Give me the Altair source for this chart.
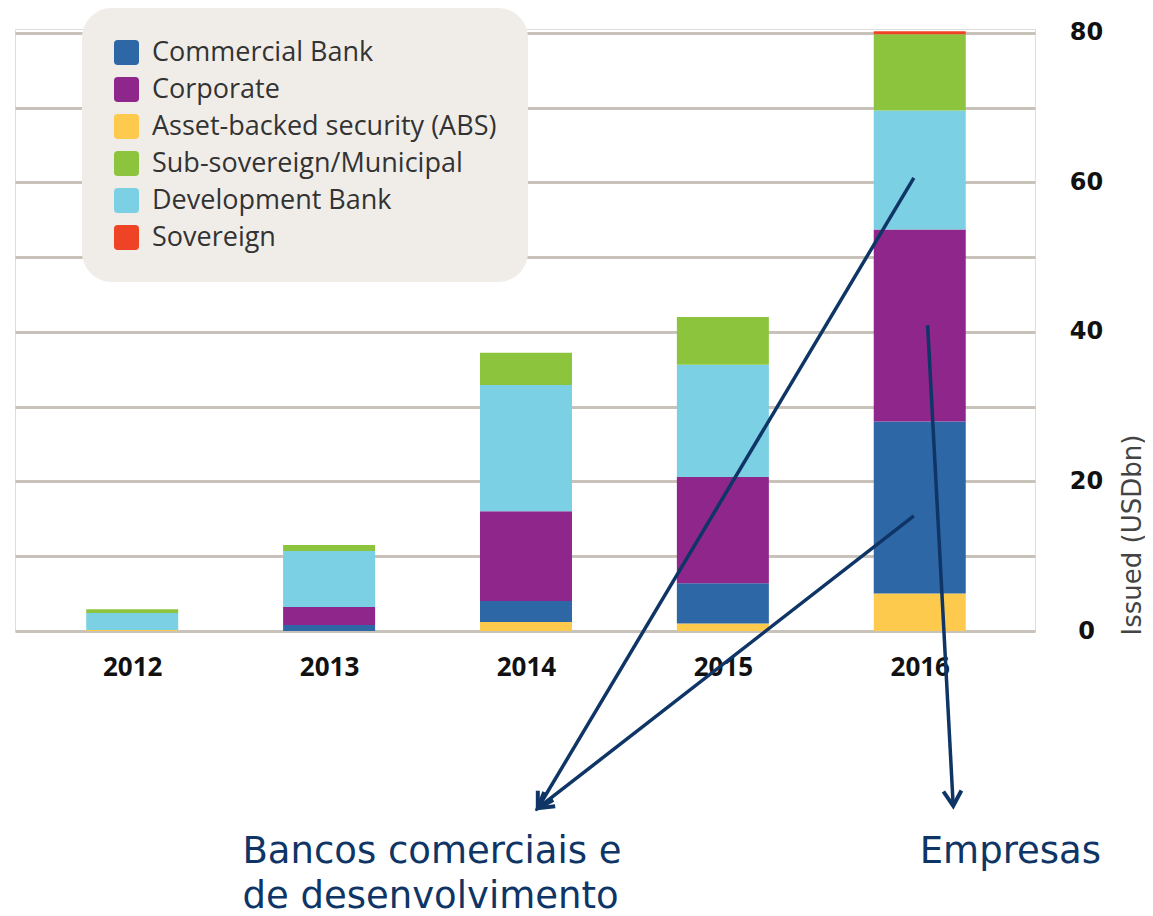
import math
import altair as alt
import pandas as pd

# ---- data ----
years = [2012, 2013, 2014, 2015, 2016]
categories = ["Commercial Bank", "Corporate", "Asset-backed security (ABS)",
              "Sub-sovereign/Municipal", "Development Bank", "Sovereign"]
colors = ["#2e67a5", "#8e268b", "#fdca4e", "#8cc43e", "#7bd0e4", "#ee4324"]
stack_order = ["Asset-backed security (ABS)", "Commercial Bank", "Corporate",
               "Development Bank", "Sub-sovereign/Municipal", "Sovereign"]

abs_values = [0.15, 0.0, 1.2, 1.0, 5.0]
commercial_values = [0.0, 0.8, 2.8, 5.4, 23.0]
corporate_values = [0.0, 2.4, 12.0, 14.2, 25.7]
development_values = [2.25, 7.5, 16.9, 15.0, 15.9]
municipal_values = [0.5, 0.8, 4.3, 6.4, 10.2]
sovereign_values = [0.0, 0.0, 0.0, 0.0, 0.4]

y_ticks = [0, 10, 20, 30, 40, 50, 60, 70, 80]

# annotation arrows (data coordinates: year, USDbn)
arrow_ids = ["a1", "a2", "a3"]
arrow_start_x = [2015.97, 2015.97, 2016.04]
arrow_start_y = [60.6, 15.4, 40.9]
arrow_end_x = [2014.06, 2014.06, 2016.17]
arrow_end_y = [-23.7, -23.7, -23.4]

note_labels = ["Bancos comerciais e", "de desenvolvimento", "Empresas"]
note_x = [2012.56, 2012.56, 2016.0]
note_y = [-31.0, -37.1, -31.0]

# ---- layout ----
W, H = 1020, 602
X_DOMAIN = [2011.43, 2016.56]
Y_DOMAIN = [0, 80.5]
NAVY = "#0e3566"

series = {
    "Asset-backed security (ABS)": abs_values,
    "Commercial Bank": commercial_values,
    "Corporate": corporate_values,
    "Development Bank": development_values,
    "Sub-sovereign/Municipal": municipal_values,
    "Sovereign": sovereign_values,
}
rows = []
for cat, vals in series.items():
    for yr, v in zip(years, vals):
        rows.append({"year": yr, "category": cat, "v": v,
                     "ord": stack_order.index(cat)})
df = pd.DataFrame(rows)

line_rows = []
head_rows = []
px_x = W / (X_DOMAIN[1] - X_DOMAIN[0])
px_y = H / (Y_DOMAIN[1] - Y_DOMAIN[0])
for i, aid in enumerate(arrow_ids):
    line_rows.append({"id": aid, "pt": 0, "year": arrow_start_x[i], "val": arrow_start_y[i]})
    line_rows.append({"id": aid, "pt": 1, "year": arrow_end_x[i], "val": arrow_end_y[i]})
    dx = (arrow_end_x[i] - arrow_start_x[i]) * px_x
    dy = -(arrow_end_y[i] - arrow_start_y[i]) * px_y
    ang = math.degrees(math.atan2(-dx, dy)) % 360
    head_rows.append({"year": arrow_end_x[i], "val": arrow_end_y[i], "angle": ang})
lines_df = pd.DataFrame(line_rows)
heads_df = pd.DataFrame(head_rows)
notes_df = pd.DataFrame({"year": note_x, "val": note_y, "label": note_labels})

xs = alt.Scale(domain=X_DOMAIN, nice=False, zero=False)
ys = alt.Scale(domain=Y_DOMAIN, nice=False)

x_axis = alt.Axis(values=years, format="d", labelFont="Open Sans",
                  labelFontWeight="bold", labelFontSize=26, labelColor="#111111",
                  domain=False, ticks=False, grid=False, title=None,
                  labelPadding=23)
y_axis = alt.Axis(orient="right", values=y_ticks,
                  labelExpr="datum.value % 20 == 0 ? datum.label : ''",
                  labelFont="DejaVu Sans", labelFontWeight="bold", labelFontSize=24,
                  labelColor="#111111", labelAlign="center", labelBaseline="middle",
                  labelPadding=51, domain=False, ticks=False,
                  grid=True, gridColor="#c9c2ba", gridWidth=3,
                  title="Issued (USDbn)", titleFont="DejaVu Sans", titleFontSize=26,
                  titleFontWeight="normal", titleColor="#444444", titleAngle=270,
                  titleAlign="left", titleBaseline="middle", titleX=97, titleY=606)

x_enc = alt.X("year:Q", scale=xs, axis=x_axis)
y_enc = alt.Y("val:Q", scale=ys, axis=y_axis)

rounded_square = ("M -0.7 -1 L 0.7 -1 Q 1 -1 1 -0.7 L 1 0.7 Q 1 1 0.7 1 "
                  "L -0.7 1 Q -1 1 -1 0.7 L -1 -0.7 Q -1 -1 -0.7 -1 Z")

bars = alt.Chart(df).transform_stack(
    stack="v", groupby=["year"], sort=[alt.SortField("ord", "ascending")],
    as_=["val", "val2"]
).mark_bar(size=92).encode(
    x=x_enc,
    y=y_enc,
    y2="val2:Q",
    color=alt.Color("category:N",
                    scale=alt.Scale(domain=categories, range=colors),
                    legend=alt.Legend(orient="none", legendX=67, legendY=-21,
                                      title=None, fillColor="#f0ede9",
                                      cornerRadius=30, padding=31,
                                      symbolType=rounded_square, symbolSize=625,
                                      symbolStrokeWidth=0, symbolOpacity=1,
                                      labelFont="Open Sans", labelFontSize=27,
                                      labelColor="#333333", labelOffset=12,
                                      rowPadding=9, labelLimit=600)),
)

arrows = alt.Chart(lines_df).mark_line(color=NAVY, strokeWidth=3.5).encode(
    x=x_enc, y=y_enc, detail="id:N", order="pt:Q"
)

chevron = "M -0.6 -1 L 0 0 L 0.6 -1"
heads = alt.Chart(heads_df).mark_point(shape=chevron, filled=False, color=NAVY,
                                       strokeWidth=4, size=900, opacity=1).encode(
    x=x_enc, y=y_enc, angle=alt.Angle("angle:Q", scale=None)
)

notes = alt.Chart(notes_df).mark_text(align="left", baseline="alphabetic",
                                      font="DejaVu Sans", fontSize=37,
                                      color=NAVY).encode(
    x=x_enc, y=y_enc, text="label:N"
)

chart = alt.layer(bars, arrows, heads, notes).properties(
    width=W, height=H,
    padding={"left": 7, "top": 0, "right": 0, "bottom": 0},
).configure_view(stroke=None).configure(background="white")

chart.save("out.html", embed_options={"renderer": "svg", "actions": False})
